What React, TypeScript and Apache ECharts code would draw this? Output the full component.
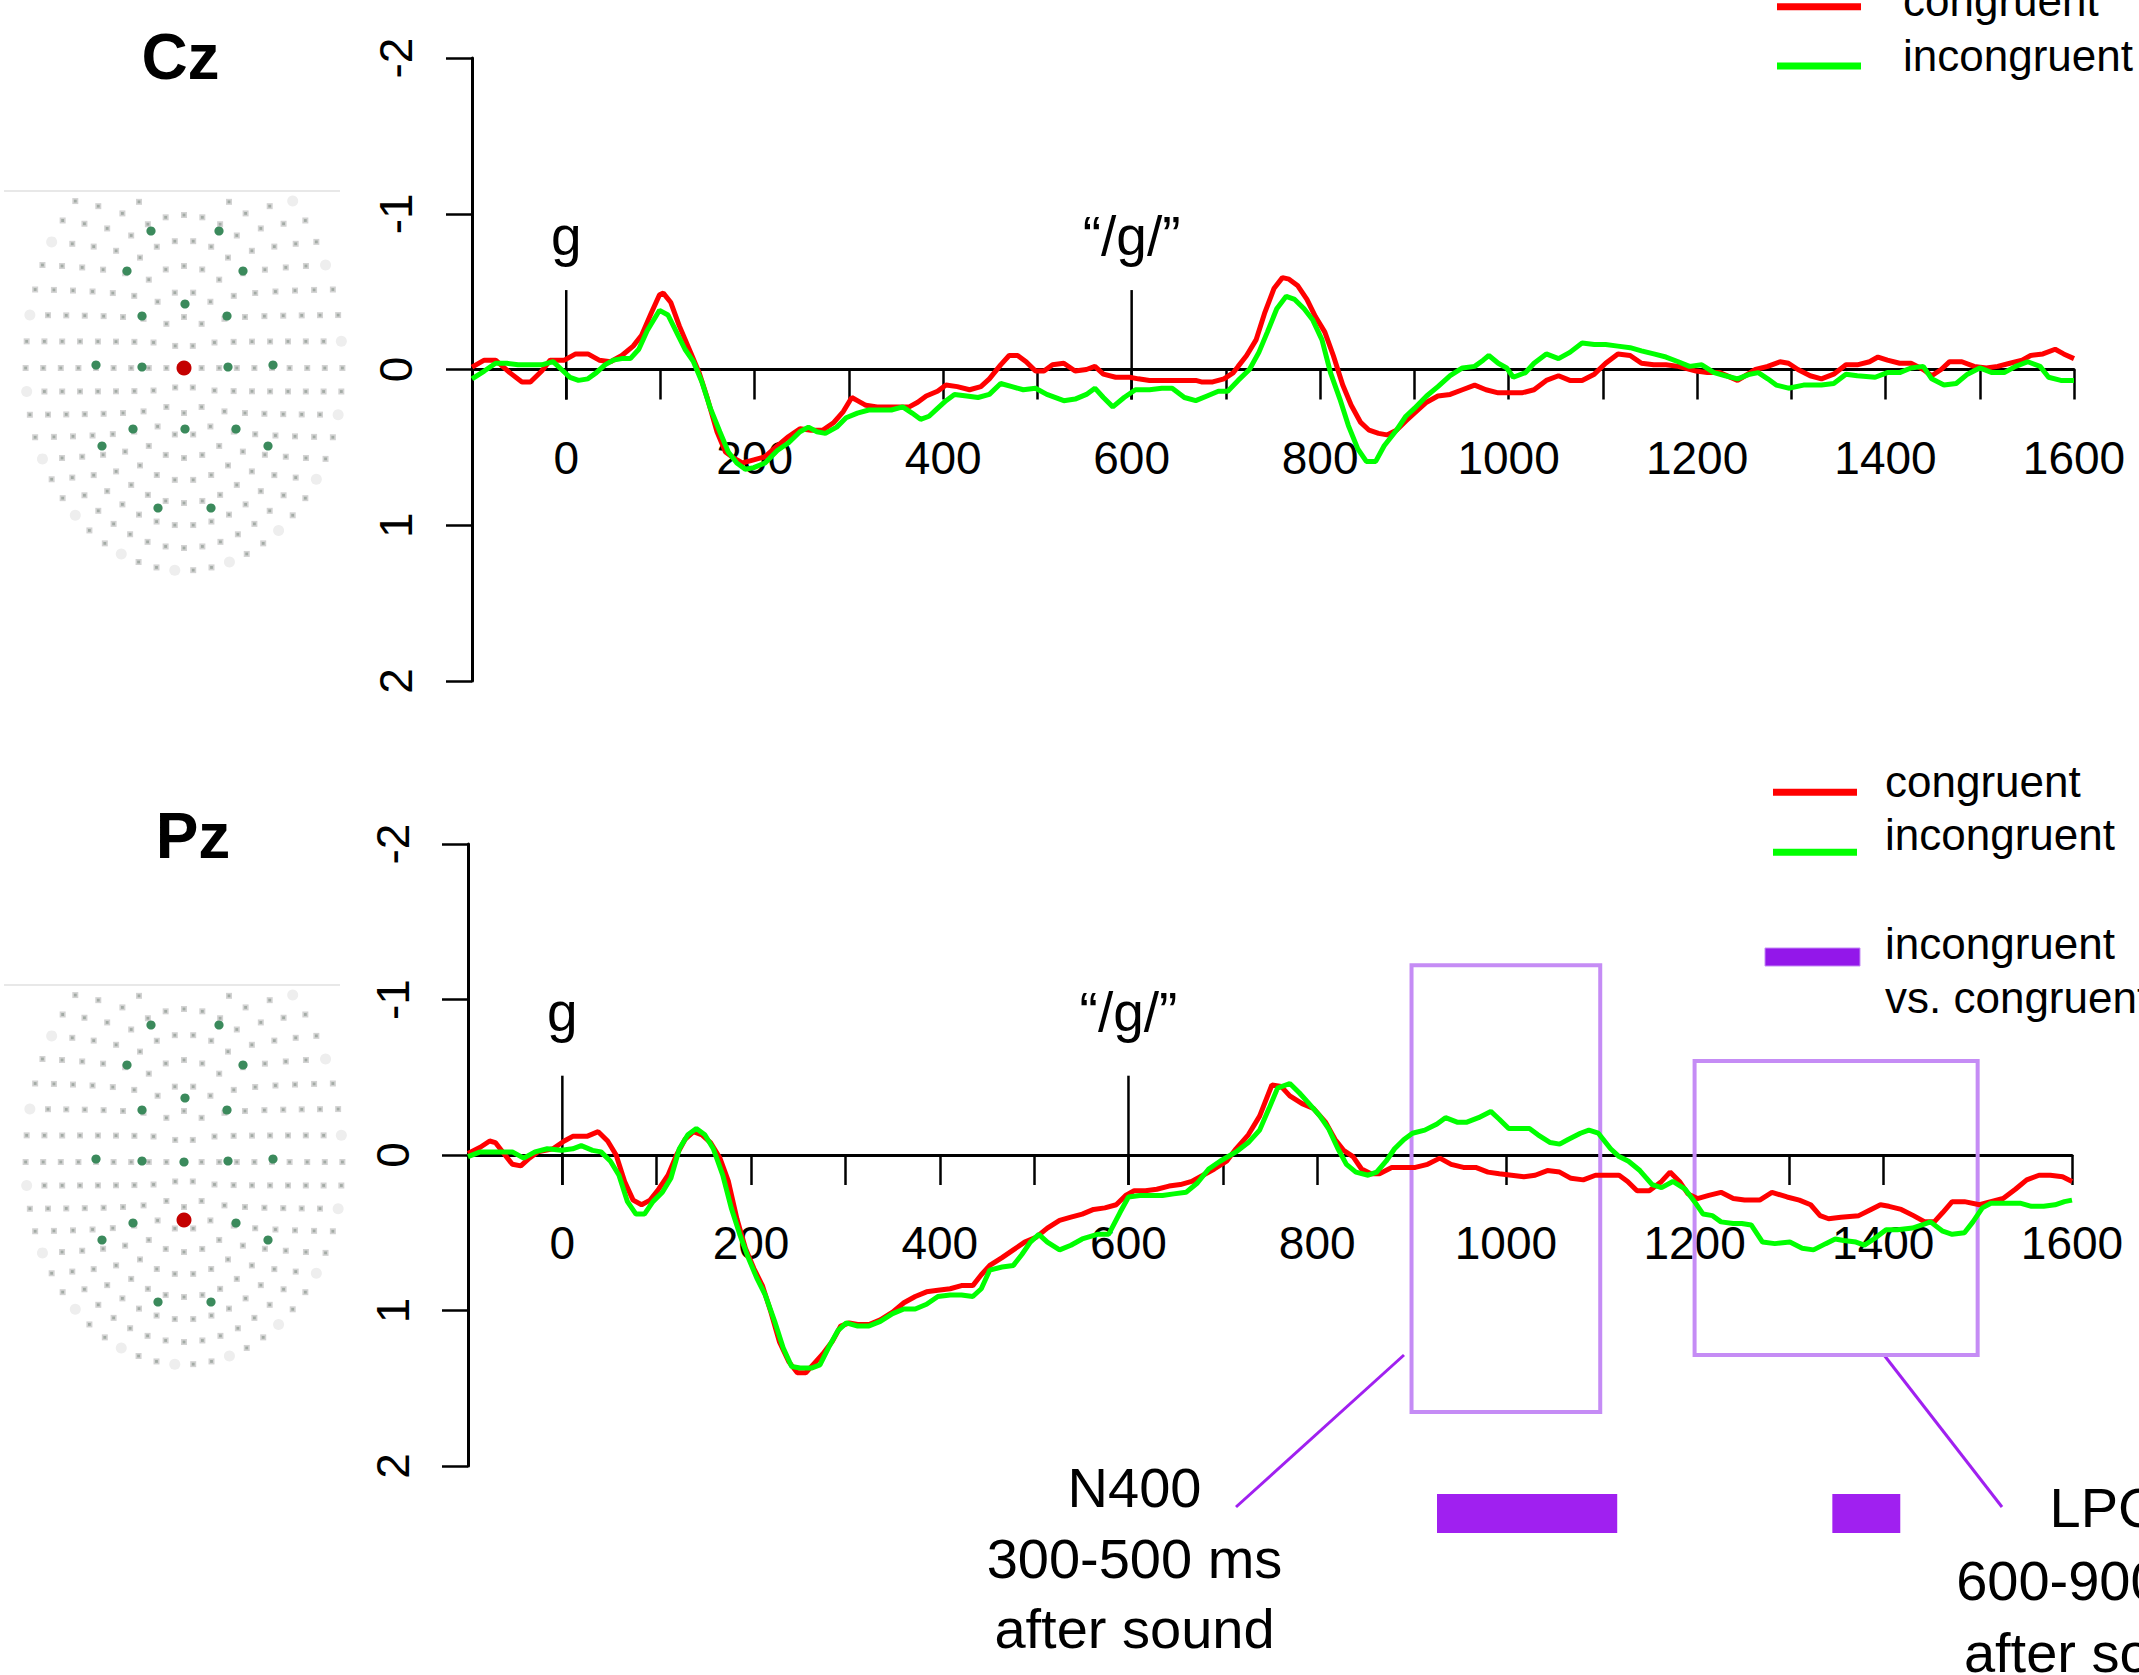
import React, { useEffect, useRef } from 'react';
import * as echarts from 'echarts';

const FONT = '"Liberation Sans", Arial, Helvetica, sans-serif';
const RED = '#ff0000';
const GREEN = '#00ff00';
const PURPLE = '#a020f0';
const BOX = '#c58cf5';

// axis definitions
const xMin = -100;
const xMax = 1600;
const xStep = 100;
const xLabelTimes = [0, 200, 400, 600, 800, 1000, 1200, 1400, 1600];
const yTicks = [-2, -1, 0, 1, 2];

// stimulus onsets
const onsetTimes = [0, 600];
const onsetLabels = ['g', '\u201C/g/\u201D'];

// legend texts
const conditionNames = ['congruent', 'incongruent'];
const contrastName = ['incongruent', 'vs. congruent'];

// analysis windows (Pz) in ms and µV
const windowStarts = [900, 1200];
const windowEnds = [1100, 1500];
const windowTops = [-1.22, -0.605];
const windowBottoms = [1.653, 1.286];

// significant clusters (ms)
const sigStarts = [927, 1346];
const sigEnds = [1118, 1418];

// Cz waveforms [ms, µV]
const czCongruent: [number, number][] = [
  [-100, -0.015], [-87, -0.06], [-75, -0.06], [-60, 0.02], [-47, 0.08], [-38, 0.08], [-26, 0.01], [-17, -0.06], [-2, -0.06],
  [10, -0.1], [23, -0.1], [35, -0.06], [47, -0.05], [59, -0.09], [71, -0.15], [80, -0.22], [90, -0.36], [99, -0.48], [103, -0.49],
  [111, -0.43], [120, -0.28], [132, -0.11], [141, 0.02], [150, 0.19], [160, 0.4], [169, 0.53], [178, 0.57], [187, 0.6], [199, 0.58],
  [211, 0.56], [224, 0.49], [236, 0.43], [248, 0.38], [260, 0.39], [272, 0.39], [284, 0.34], [294, 0.27], [303, 0.18], [309, 0.2],
  [318, 0.23], [330, 0.24], [342, 0.24], [354, 0.24], [364, 0.24], [373, 0.21], [382, 0.17], [394, 0.14], [403, 0.1], [415, 0.11],
  [428, 0.13], [440, 0.11], [449, 0.06], [461, -0.03], [470, -0.09], [479, -0.09], [488, -0.05], [498, 0.01], [507, 0.01], [516, -0.03],
  [528, -0.04], [540, 0.01], [552, 0.0], [561, -0.02], [570, 0.03], [583, 0.05], [598, 0.05], [607, 0.06], [619, 0.07], [643, 0.07],
  [668, 0.07], [674, 0.08], [686, 0.08], [698, 0.06], [708, 0.02], [713, -0.02], [722, -0.09], [732, -0.19], [741, -0.36], [751, -0.52],
  [760, -0.59], [767, -0.58], [776, -0.54], [786, -0.45], [795, -0.34], [805, -0.24], [814, -0.09], [824, 0.1], [833, 0.23], [843, 0.34],
  [852, 0.39], [862, 0.41], [871, 0.42], [881, 0.39], [891, 0.33], [900, 0.28], [913, 0.21], [925, 0.17], [938, 0.16], [951, 0.13],
  [964, 0.1], [976, 0.13], [989, 0.15], [1002, 0.15], [1014, 0.15], [1027, 0.13], [1040, 0.07], [1053, 0.04], [1065, 0.07], [1078, 0.07],
  [1091, 0.03], [1103, -0.04], [1116, -0.1], [1129, -0.09], [1141, -0.04], [1154, -0.03], [1167, -0.03], [1180, -0.02], [1199, 0.01],
  [1211, 0.02], [1224, 0.02], [1243, 0.07], [1262, 0.0], [1275, -0.02], [1288, -0.05], [1297, -0.04], [1307, 0.0], [1320, 0.04],
  [1332, 0.06], [1345, 0.03], [1358, -0.03], [1370, -0.03], [1383, -0.05], [1392, -0.08], [1402, -0.06], [1415, -0.04], [1427, -0.04],
  [1440, 0.0], [1449, 0.04], [1459, 0.0], [1468, -0.05], [1481, -0.05], [1494, -0.02], [1507, -0.01], [1519, -0.02], [1532, -0.04],
  [1545, -0.06], [1554, -0.09], [1567, -0.1], [1580, -0.13], [1589, -0.1], [1600, -0.07],
];

const czIncongruent: [number, number][] = [
  [-100, 0.06], [-87, 0.01], [-75, -0.04], [-63, -0.04], [-51, -0.03], [-38, -0.03], [-26, -0.03], [-14, -0.05], [-5, 0.0], [4, 0.05],
  [13, 0.07], [23, 0.06], [32, 0.02], [41, -0.03], [50, -0.06], [59, -0.07], [68, -0.07], [77, -0.13], [86, -0.25], [99, -0.38],
  [108, -0.35], [117, -0.24], [126, -0.13], [135, -0.05], [144, 0.08], [153, 0.25], [163, 0.4], [172, 0.53], [181, 0.6], [190, 0.64],
  [199, 0.63], [211, 0.6], [224, 0.52], [236, 0.47], [248, 0.4], [257, 0.37], [266, 0.4], [275, 0.41], [287, 0.37], [297, 0.31],
  [309, 0.28], [321, 0.26], [333, 0.26], [345, 0.26], [357, 0.24], [367, 0.28], [376, 0.32], [385, 0.3], [394, 0.25], [403, 0.2],
  [412, 0.16], [425, 0.17], [437, 0.18], [449, 0.16], [461, 0.09], [473, 0.11], [485, 0.13], [498, 0.12], [510, 0.16], [528, 0.2],
  [540, 0.19], [552, 0.16], [561, 0.12], [570, 0.18], [580, 0.24], [592, 0.18], [604, 0.13], [619, 0.13], [632, 0.12], [643, 0.12],
  [656, 0.18], [668, 0.2], [680, 0.17], [692, 0.14], [702, 0.14], [713, 0.07], [725, 0.0], [735, -0.11], [744, -0.24], [754, -0.39],
  [764, -0.47], [773, -0.45], [783, -0.39], [792, -0.32], [802, -0.19], [811, 0.02], [821, 0.19], [830, 0.36], [840, 0.51], [849, 0.59],
  [859, 0.59], [868, 0.49], [881, 0.39], [891, 0.3], [900, 0.25], [913, 0.17], [925, 0.11], [938, 0.04], [951, -0.01], [964, -0.02],
  [973, -0.06], [979, -0.09], [989, -0.04], [998, -0.01], [1005, 0.05], [1018, 0.02], [1027, -0.04], [1040, -0.1], [1053, -0.07],
  [1065, -0.11], [1078, -0.17], [1091, -0.16], [1103, -0.16], [1116, -0.15], [1129, -0.14], [1141, -0.12], [1154, -0.1], [1167, -0.08],
  [1180, -0.05], [1192, -0.02], [1205, -0.03], [1218, 0.02], [1230, 0.04], [1243, 0.06], [1256, 0.03], [1265, 0.02], [1275, 0.06],
  [1284, 0.1], [1297, 0.12], [1313, 0.1], [1332, 0.1], [1345, 0.09], [1358, 0.03], [1370, 0.04], [1389, 0.05], [1402, 0.02], [1415, 0.02],
  [1427, -0.01], [1440, -0.02], [1449, 0.06], [1462, 0.1], [1475, 0.09], [1487, 0.03], [1500, -0.01], [1513, 0.02], [1526, 0.02],
  [1538, -0.02], [1551, -0.05], [1564, -0.02], [1573, 0.05], [1586, 0.07], [1600, 0.07],
];

// Pz waveforms [ms, µV]
const pzCongruent: [number, number][] = [
  [-100, -0.01], [-87, -0.05], [-77, -0.09], [-71, -0.08], [-62, -0.01], [-53, 0.06], [-44, 0.07], [-35, 0.02], [-26, -0.02], [-10, -0.04],
  [2, -0.09], [11, -0.12], [26, -0.12], [38, -0.15], [48, -0.09], [57, 0.0], [66, 0.17], [75, 0.29], [84, 0.32], [93, 0.29], [102, 0.22],
  [112, 0.13], [121, 0.0], [130, -0.1], [139, -0.15], [148, -0.13], [157, -0.08], [167, 0.02], [176, 0.17], [185, 0.41], [194, 0.6],
  [203, 0.73], [212, 0.84], [221, 1.01], [230, 1.2], [240, 1.33], [249, 1.4], [258, 1.4], [267, 1.34], [276, 1.28], [286, 1.2], [295, 1.1],
  [304, 1.08], [313, 1.09], [325, 1.09], [337, 1.06], [350, 1.01], [362, 0.95], [374, 0.91], [386, 0.88], [398, 0.87], [411, 0.86],
  [423, 0.84], [435, 0.84], [444, 0.77], [453, 0.71], [466, 0.66], [478, 0.61], [490, 0.56], [502, 0.53], [514, 0.47], [527, 0.42],
  [539, 0.4], [551, 0.38], [563, 0.35], [575, 0.34], [587, 0.32], [597, 0.26], [606, 0.23], [618, 0.23], [630, 0.22], [643, 0.2],
  [655, 0.19], [667, 0.17], [679, 0.13], [691, 0.09], [704, 0.04], [714, -0.04], [727, -0.13], [739, -0.25], [752, -0.45], [762, -0.44],
  [771, -0.38], [784, -0.33], [796, -0.3], [809, -0.21], [819, -0.1], [828, -0.03], [838, 0.01], [847, 0.09], [857, 0.12], [866, 0.12],
  [879, 0.08], [892, 0.08], [904, 0.08], [917, 0.06], [930, 0.02], [942, 0.06], [955, 0.08], [968, 0.08], [981, 0.11], [993, 0.12],
  [1006, 0.13], [1019, 0.14], [1031, 0.13], [1044, 0.1], [1057, 0.11], [1069, 0.15], [1082, 0.16], [1095, 0.13], [1107, 0.13],
  [1120, 0.13], [1129, 0.17], [1139, 0.23], [1152, 0.23], [1165, 0.17], [1174, 0.11], [1184, 0.17], [1193, 0.25], [1203, 0.28],
  [1215, 0.26], [1228, 0.24], [1241, 0.28], [1253, 0.29], [1269, 0.29], [1282, 0.24], [1298, 0.27], [1311, 0.29], [1323, 0.32],
  [1333, 0.39], [1342, 0.41], [1355, 0.4], [1374, 0.39], [1387, 0.35], [1397, 0.32], [1406, 0.33], [1419, 0.35], [1432, 0.39],
  [1444, 0.43], [1454, 0.43], [1463, 0.37], [1473, 0.3], [1486, 0.3], [1502, 0.32], [1514, 0.3], [1527, 0.28], [1540, 0.22],
  [1552, 0.16], [1565, 0.13], [1577, 0.13], [1590, 0.14], [1600, 0.17],
];

const pzIncongruent: [number, number][] = [
  [-100, 0.01], [-87, -0.02], [-71, -0.02], [-53, -0.02], [-41, 0.02], [-29, -0.02], [-16, -0.04], [-1, -0.03], [11, -0.04], [20, -0.06],
  [32, -0.03], [41, -0.02], [51, 0.04], [60, 0.13], [69, 0.3], [78, 0.38], [87, 0.38], [96, 0.3], [106, 0.24], [115, 0.15], [124, -0.04],
  [133, -0.13], [142, -0.17], [151, -0.13], [160, -0.04], [170, 0.13], [179, 0.34], [188, 0.51], [197, 0.66], [206, 0.79], [215, 0.9],
  [225, 1.07], [234, 1.24], [243, 1.36], [252, 1.37], [264, 1.37], [273, 1.35], [282, 1.24], [292, 1.13], [301, 1.08], [313, 1.1],
  [325, 1.1], [337, 1.07], [350, 1.02], [362, 0.99], [374, 0.99], [386, 0.96], [398, 0.91], [411, 0.9], [423, 0.9], [435, 0.91],
  [444, 0.86], [453, 0.74], [466, 0.72], [478, 0.71], [487, 0.64], [496, 0.56], [505, 0.51], [514, 0.56], [527, 0.61], [539, 0.58],
  [551, 0.54], [567, 0.51], [579, 0.51], [591, 0.37], [600, 0.27], [612, 0.26], [624, 0.26], [636, 0.26], [648, 0.25], [661, 0.24],
  [673, 0.18], [685, 0.09], [697, 0.04], [714, -0.02], [727, -0.08], [739, -0.16], [749, -0.3], [758, -0.43], [771, -0.46], [781, -0.4],
  [790, -0.34], [803, -0.25], [812, -0.17], [822, -0.04], [831, 0.06], [841, 0.11], [854, 0.13], [863, 0.11], [873, 0.04], [882, -0.04],
  [892, -0.1], [901, -0.14], [914, -0.16], [927, -0.2], [936, -0.24], [949, -0.21], [958, -0.21], [971, -0.24], [984, -0.28], [993, -0.23],
  [1003, -0.17], [1012, -0.17], [1025, -0.17], [1034, -0.13], [1047, -0.08], [1057, -0.07], [1066, -0.1], [1079, -0.14], [1088, -0.16],
  [1098, -0.14], [1111, -0.04], [1120, 0.01], [1130, 0.04], [1142, 0.1], [1155, 0.19], [1165, 0.21], [1177, 0.17], [1190, 0.22],
  [1200, 0.3], [1209, 0.38], [1219, 0.39], [1228, 0.43], [1241, 0.44], [1250, 0.44], [1260, 0.45], [1272, 0.56], [1285, 0.57],
  [1301, 0.56], [1314, 0.6], [1326, 0.61], [1339, 0.57], [1349, 0.54], [1358, 0.55], [1371, 0.56], [1380, 0.58], [1390, 0.54],
  [1403, 0.48], [1415, 0.48], [1431, 0.47], [1441, 0.45], [1450, 0.43], [1463, 0.49], [1473, 0.51], [1486, 0.5], [1495, 0.43],
  [1505, 0.34], [1514, 0.31], [1530, 0.31], [1545, 0.31], [1557, 0.33], [1570, 0.33], [1582, 0.32], [1592, 0.3], [1600, 0.29],
];

// electrode sensor highlight offsets on the head map (px from map centre)
const greenOffsets = [
  [-33, -137], [35, -137], [-57, -97], [59, -97], [1, -64], [-42, -52], [43, -52], [-88, -3], [-42, -1], [44, -1], [89, -3],
  [-51, 61], [1, 61], [52, 61], [-82, 78], [84, 78], [-26, 140], [27, 140], [0, 0],
];

function txt(text: string, x: number, y: number, size: number, align = 'left', weight = 'normal') {
  return {
    type: 'text', x, y, silent: true, z: 10,
    style: {
      text, fill: '#000', fontSize: size, fontFamily: FONT, fontWeight: weight,
      align, verticalAlign: 'middle', textAlign: align, textVerticalAlign: 'middle',
    },
  };
}

function headMap(cx: number, cy: number, topY: number, red: number[]) {
  const els: any[] = [];
  els.push({ type: 'line', silent: true, shape: { x1: 4, y1: topY, x2: 340, y2: topY }, style: { stroke: '#e8e8e8', lineWidth: 2 } });
  const rings = 9;
  for (let k = 0; k <= rings; k++) {
    const n = k === 0 ? 1 : Math.round(6 * k);
    for (let i = 0; i < n; i++) {
      const a = -Math.PI / 2 + ((i + (k % 2) * 0.5) * 2 * Math.PI) / n;
      const dx = 17.6 * k * Math.cos(a);
      const s = Math.sin(a);
      const dy = (s < 0 ? 25.5 : 22.5) * k * s;
      if (cy + dy < topY + 6) continue;
      const outer = k === rings && (i % 3 === 0);
      if (outer) {
        els.push({ type: 'circle', silent: true, shape: { cx: cx + dx, cy: cy + dy, r: 5.5 }, style: { fill: '#eeeeee' } });
      } else {
        els.push({ type: 'rect', silent: true, shape: { x: cx + dx - 3, y: cy + dy - 3, width: 6, height: 6 }, style: { fill: '#d3d3d3' } });
        els.push({ type: 'rect', silent: true, shape: { x: cx + dx - 1.4, y: cy + dy - 1.4, width: 2.8, height: 2.8 }, style: { fill: '#a3aba5' } });
      }
    }
  }
  greenOffsets.forEach(([dx, dy]) => {
    if (Math.abs(dx - red[0]) < 8 && Math.abs(dy - red[1]) < 8) return;
    els.push({ type: 'circle', silent: true, shape: { cx: cx + dx, cy: cy + dy, r: 4.6 }, style: { fill: '#3b8a5c' } });
  });
  els.push({ type: 'circle', silent: true, shape: { cx: cx + red[0], cy: cy + red[1], r: 7.5 }, style: { fill: '#c40000' } });
  return els;
}

function xAxis(gridIndex: number, labelMargin: number) {
  return {
    type: 'value', gridIndex, min: xMin, max: xMax, interval: xStep,
    axisLine: { show: true, onZero: true, lineStyle: { color: '#000', width: 3 } },
    axisTick: { show: true, length: 30, lineStyle: { color: '#000', width: 2.5 } },
    axisLabel: {
      show: true, margin: labelMargin, fontSize: 46, fontFamily: FONT, color: '#000',
      formatter: (v: number) => (xLabelTimes.indexOf(v) >= 0 ? String(v) : ''),
    },
    splitLine: { show: false },
  };
}

function yAxis(gridIndex: number, margin: number) {
  return {
    type: 'value', gridIndex, inverse: true, min: yTicks[0], max: yTicks[yTicks.length - 1], interval: 1,
    axisLine: { show: true, onZero: false, lineStyle: { color: '#000', width: 3 } },
    axisTick: { show: true, length: 26, lineStyle: { color: '#000', width: 2.5 } },
    axisLabel: {
      show: true, rotate: 90, margin, fontSize: 46, fontFamily: FONT, color: '#000',
      formatter: (v: number) => (v < 0 ? '-' + Math.abs(v) : String(v)),
    },
    splitLine: { show: false },
  };
}

function wave(name: string, data: [number, number][], color: string, idx: number, z: number) {
  return {
    type: 'line', name, xAxisIndex: idx, yAxisIndex: idx, data, symbol: 'none', showSymbol: false,
    lineStyle: { color, width: 5 }, itemStyle: { color }, z, silent: true,
  };
}

function onsetSeries(idx: number, labelVal: number) {
  return {
    type: 'custom', xAxisIndex: idx, yAxisIndex: idx, z: 2, silent: true,
    data: onsetTimes.map((t) => [t, 0]),
    encode: { x: 0, y: 1 },
    renderItem: (params: any, api: any) => {
      const t = api.value(0);
      const a = api.coord([t, -0.51]);
      const b = api.coord([t, 0.193]);
      const c = api.coord([t, labelVal]);
      return {
        type: 'group',
        children: [
          { type: 'line', shape: { x1: a[0], y1: a[1], x2: b[0], y2: b[1] }, style: { stroke: '#000', lineWidth: 2.5 } },
          {
            type: 'text', x: c[0], y: c[1],
            style: {
              text: onsetLabels[params.dataIndex], fill: '#000', fontSize: 55, fontFamily: FONT,
              align: 'center', verticalAlign: 'middle', textAlign: 'center', textVerticalAlign: 'middle',
            },
          },
        ],
      };
    },
  };
}

export default function App() {
  const ref = useRef<HTMLDivElement>(null);
  useEffect(() => {
    if (!ref.current) return;
    const chart = echarts.init(ref.current, null, { renderer: 'svg' });

    const graphics: any[] = [
      txt('Cz', 180.5, 57, 64, 'center', 'bold'),
      txt('Pz', 193, 836, 64, 'center', 'bold'),
      ...headMap(184, 368, 191, [0, 0]),
      ...headMap(184, 1162, 985, [0, 58]),
      // Cz legend
      { type: 'line', silent: true, shape: { x1: 1777, y1: 6.7, x2: 1861, y2: 6.7 }, style: { stroke: RED, lineWidth: 7 } },
      { type: 'line', silent: true, shape: { x1: 1777, y1: 66, x2: 1861, y2: 66 }, style: { stroke: GREEN, lineWidth: 7 } },
      txt(conditionNames[0], 1903, 0.5, 44),
      txt(conditionNames[1], 1903, 55.3, 44),
      // Pz legend
      { type: 'line', silent: true, shape: { x1: 1773, y1: 792.3, x2: 1857, y2: 792.3 }, style: { stroke: RED, lineWidth: 7 } },
      { type: 'line', silent: true, shape: { x1: 1773, y1: 852.3, x2: 1857, y2: 852.3 }, style: { stroke: GREEN, lineWidth: 7 } },
      txt(conditionNames[0], 1885, 781.3, 44),
      txt(conditionNames[1], 1885, 834.6, 44),
      { type: 'rect', silent: true, shape: { x: 1765, y: 948, width: 95, height: 18 }, style: { fill: '#9317ea', stroke: '#c58cf5', lineWidth: 1 } },
      txt(contrastName[0], 1885, 943.9, 44),
      txt(contrastName[1], 1885, 997.9, 44),
      // annotations
      { type: 'line', silent: true, shape: { x1: 1236, y1: 1507, x2: 1404, y2: 1355 }, style: { stroke: PURPLE, lineWidth: 3 } },
      { type: 'line', silent: true, shape: { x1: 1884, y1: 1355, x2: 2002, y2: 1507 }, style: { stroke: PURPLE, lineWidth: 3 } },
      txt('N400', 1134.5, 1487.5, 56, 'center'),
      txt('300-500 ms', 1134.5, 1558, 56, 'center'),
      txt('after sound', 1134.5, 1628, 56, 'center'),
      txt('LPC', 2104, 1507.5, 56, 'center'),
      txt('600-900 ms', 2104, 1580, 56, 'center'),
      txt('after sound', 2104, 1652, 56, 'center'),
    ];

    const option: any = {
      animation: false,
      backgroundColor: '#ffffff',
      textStyle: { fontFamily: FONT },
      grid: [
        { left: 472, top: 58, width: 1602, height: 623 },
        { left: 468, top: 844, width: 1604, height: 622 },
        { left: 468, top: 1494, width: 1604, height: 39 },
      ],
      xAxis: [
        xAxis(0, -246.5),
        xAxis(1, -246),
        { type: 'value', gridIndex: 2, min: xMin, max: xMax, show: false },
      ],
      yAxis: [
        yAxis(0, 53.5),
        yAxis(1, 52),
        { type: 'value', gridIndex: 2, min: 0, max: 1, show: false },
      ],
      series: [
        onsetSeries(0, -0.857),
        wave('Cz congruent', czCongruent, RED, 0, 3),
        wave('Cz incongruent', czIncongruent, GREEN, 0, 4),
        {
          type: 'custom', xAxisIndex: 1, yAxisIndex: 1, z: 1, silent: true,
          data: windowStarts.map((s, i) => [s, windowEnds[i], windowTops[i], windowBottoms[i]]),
          encode: { x: [0, 1], y: [2, 3] },
          renderItem: (_p: any, api: any) => {
            const a = api.coord([api.value(0), api.value(2)]);
            const b = api.coord([api.value(1), api.value(3)]);
            return {
              type: 'rect',
              shape: { x: a[0], y: a[1], width: b[0] - a[0], height: b[1] - a[1] },
              style: { fill: 'none', stroke: BOX, lineWidth: 4 },
            };
          },
        },
        onsetSeries(1, -0.918),
        wave('Pz congruent', pzCongruent, RED, 1, 3),
        wave('Pz incongruent', pzIncongruent, GREEN, 1, 4),
        {
          type: 'custom', xAxisIndex: 2, yAxisIndex: 2, z: 2, silent: true,
          data: sigStarts.map((s, i) => [s, sigEnds[i], 0, 1]),
          encode: { x: [0, 1], y: [2, 3] },
          renderItem: (_p: any, api: any) => {
            const a = api.coord([api.value(0), 1]);
            const b = api.coord([api.value(1), 0]);
            return {
              type: 'rect',
              shape: { x: a[0], y: a[1], width: b[0] - a[0], height: b[1] - a[1] },
              style: { fill: PURPLE },
            };
          },
        },
      ],
      graphic: { elements: graphics },
    };

    chart.setOption(option);
    return () => chart.dispose();
  }, []);

  return (
    <div
      ref={ref}
      style={{ position: 'absolute', left: 0, top: 0, width: 2139, height: 1675, background: '#fff' }}
    />
  );
}
